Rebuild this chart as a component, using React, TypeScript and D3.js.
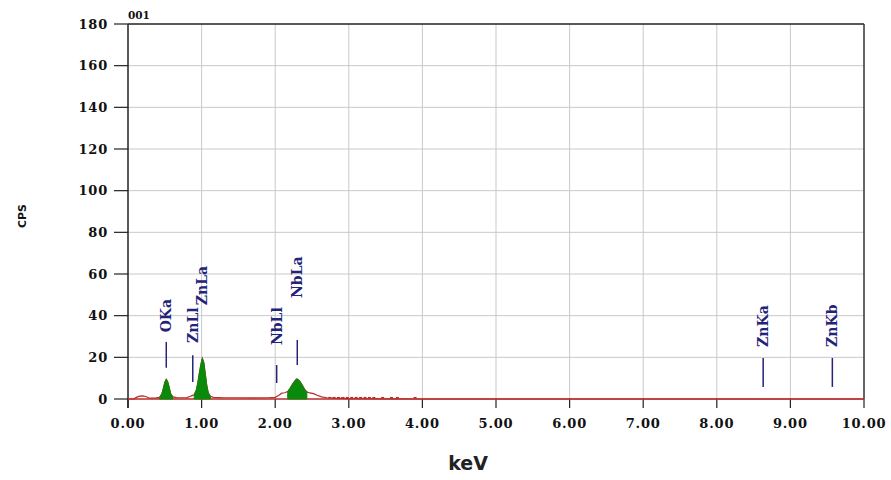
import React from "react";
import * as d3 from "d3";

// Spectrum samples: energy (keV) and counts per second
const energies = [
  0.0, 0.08, 0.12, 0.16, 0.2, 0.24, 0.28, 0.32, 0.38, 0.43, 0.46, 0.48, 0.5, 0.52, 0.54, 0.56, 0.58, 0.61, 0.66,
  0.72, 0.8, 0.84, 0.87, 0.9, 0.93, 0.95, 0.97, 0.99, 1.01, 1.03, 1.05, 1.07, 1.09, 1.12, 1.16, 1.3, 1.5, 1.7,
  1.9, 2.0, 2.05, 2.09, 2.13, 2.17, 2.2, 2.23, 2.26, 2.29, 2.31, 2.34, 2.37, 2.4, 2.43, 2.47, 2.52, 2.57, 2.63,
  2.7, 2.8, 3.0, 3.5, 4.0, 5.0, 7.0, 10.0,
];
const counts = [
  0.0, 0.1, 0.9, 1.4, 1.5, 1.2, 0.6, 0.4, 0.5, 0.8, 2.5, 5.0, 8.0, 9.5, 8.2, 5.5, 2.5, 1.0, 0.7,
  0.6, 0.7, 1.2, 1.6, 2.0, 4.5, 8.0, 12.5, 16.5, 19.5, 17.5, 12.0, 6.5, 3.0, 1.3, 0.8, 0.6, 0.6, 0.5,
  0.6, 0.8, 1.8, 2.8, 3.0, 3.6, 5.0, 6.8, 8.3, 9.6, 9.4, 8.2, 6.5, 4.6, 3.4, 2.9, 2.6, 1.8, 1.0,
  0.6, 0.4, 0.2, 0.1, 0.0, 0.0, 0.0, 0.0,
];

// Energy windows filled as peaks
const peakWindows: [number, number][] = [
  [0.43, 0.61],
  [0.9, 1.12],
  [2.16, 2.45],
];

// Scattered low-count channels between 2.7 and 4 keV
const noiseEnergies = [2.74, 2.8, 2.86, 2.92, 2.98, 3.04, 3.1, 3.16, 3.22, 3.28, 3.34, 3.46, 3.58, 3.66, 3.9];

// Element line markers
const markerNames = ["OKa", "ZnLl", "ZnLa", "NbLl", "NbLa", "ZnKa", "ZnKb"];
const markerEnergies = [0.52, 0.88, 1.01, 2.02, 2.3, 8.63, 9.57];
const markerLow = [15, 8.2, 6, 7.7, 16.3, 5.8, 5.8];
const markerHigh = [27.4, 21, 18, 16.3, 28.3, 19.7, 19.7];
const markerLabelBase = [32, 26.9, 45, 25.9, 48.5, 25, 25];

const xTicks = [0, 1, 2, 3, 4, 5, 6, 7, 8, 9, 10];
const yTicks = [0, 20, 40, 60, 80, 100, 120, 140, 160, 180];

const W = 891;
const H = 480;
const left = 128;
const right = 864;
const top = 24;
const bottom = 399;

export default function App() {
  const x = d3.scaleLinear().domain([0, 10]).range([left, right]);
  const y = d3.scaleLinear().domain([0, 180]).range([bottom, top]);

  const pts = energies.map((e, i) => [e, counts[i]] as [number, number]);
  const line = d3
    .line<[number, number]>()
    .x((d) => x(d[0]))
    .y((d) => y(d[1]));
  const area = d3
    .area<[number, number]>()
    .x((d) => x(d[0]))
    .y0(y(0))
    .y1((d) => y(d[1]));

  const serif = "'DejaVu Serif', 'Liberation Serif', serif";
  const navy = "#23237a";
  const red = "#b82a2a";

  return (
    <svg
      width={W}
      height={H}
      style={{ position: "absolute", left: 0, top: 0, background: "#fff" }}
      xmlns="http://www.w3.org/2000/svg"
    >
      <rect x={0} y={0} width={W} height={H} fill="#fff" />

      {/* grid */}
      {xTicks.slice(1, -1).map((t) => (
        <line key={"gx" + t} x1={x(t)} x2={x(t)} y1={top} y2={bottom} stroke="#c9c9c9" strokeWidth={1} />
      ))}
      {yTicks.slice(1, -1).map((t) => (
        <line key={"gy" + t} x1={left} x2={right} y1={y(t)} y2={y(t)} stroke="#c9c9c9" strokeWidth={1} />
      ))}

      {/* frame */}
      <line x1={left} x2={right} y1={top} y2={top} stroke="#222" strokeWidth={1.5} />
      <line x1={right} x2={right} y1={top} y2={bottom} stroke="#333" strokeWidth={1.5} />
      <line x1={left} x2={left} y1={top} y2={bottom + 9} stroke="#222" strokeWidth={1.5} />

      {/* axis ticks */}
      {yTicks.map((t) => (
        <line key={"ty" + t} x1={left - 14} x2={left} y1={y(t)} y2={y(t)} stroke="#222" strokeWidth={1.2} />
      ))}
      {xTicks.map((t) => (
        <line key={"tx" + t} x1={x(t)} x2={x(t)} y1={bottom} y2={bottom + 9} stroke="#222" strokeWidth={1.2} />
      ))}

      {/* tick labels */}
      {yTicks.map((t) => (
        <text
          key={"ly" + t}
          x={left - 20}
          y={y(t)}
          dy="0.36em"
          textAnchor="end"
          fontFamily={serif}
          fontWeight="bold"
          fontSize={13}
          letterSpacing={0.8}
          fill="#111"
        >
          {t}
        </text>
      ))}
      {xTicks.map((t) => (
        <text
          key={"lx" + t}
          x={x(t)}
          y={bottom + 29}
          textAnchor="middle"
          fontFamily={serif}
          fontWeight="bold"
          fontSize={13}
          letterSpacing={0.8}
          fill="#111"
        >
          {t.toFixed(2)}
        </text>
      ))}

      {/* element markers */}
      {markerNames.map((name, i) => {
        const mx = x(markerEnergies[i]);
        return (
          <g key={name}>
            <line x1={mx} x2={mx} y1={y(markerLow[i])} y2={y(markerHigh[i])} stroke={navy} strokeWidth={1.5} />
            <text
              transform={`translate(${mx},${y(markerLabelBase[i])}) rotate(-90)`}
              dominantBaseline="central"
              fontFamily={serif}
              fontWeight="bold"
              fontSize={14}
              fill={navy}
            >
              {name}
            </text>
          </g>
        );
      })}

      {/* spectrum: background trace, then filled peaks on top */}
      <path d={line(pts) || ""} fill="none" stroke={red} strokeWidth={1.2} />
      <line x1={left} x2={right} y1={bottom} y2={bottom} stroke={red} strokeWidth={1.5} />
      {peakWindows.map(([a, b], i) => (
        <path
          key={"pk" + i}
          d={area(pts.filter((p) => p[0] >= a && p[0] <= b)) || ""}
          fill="#0a8a0a"
          stroke="#0a8a0a"
          strokeWidth={1}
        />
      ))}
      {noiseEnergies.map((e, i) => (
        <line
          key={"n" + i}
          x1={x(e) - 1.5}
          x2={x(e) + 1.5}
          y1={y(0.7)}
          y2={y(0.7)}
          stroke={red}
          strokeWidth={1.2}
        />
      ))}

      {/* titles */}
      <text x={left} y={19} fontFamily={serif} fontWeight="bold" fontSize={10.5} fill="#111">
        001
      </text>
      <text
        transform={`translate(22,216) rotate(-90)`}
        textAnchor="middle"
        dominantBaseline="central"
        fontFamily="'DejaVu Sans', sans-serif"
        fontWeight="bold"
        fontSize={11}
        fill="#111"
      >
        CPS
      </text>
      <text
        x={468}
        y={470}
        textAnchor="middle"
        fontFamily="'DejaVu Sans', sans-serif"
        fontWeight="bold"
        fontSize={19}
        fill="#222"
      >
        keV
      </text>
    </svg>
  );
}
